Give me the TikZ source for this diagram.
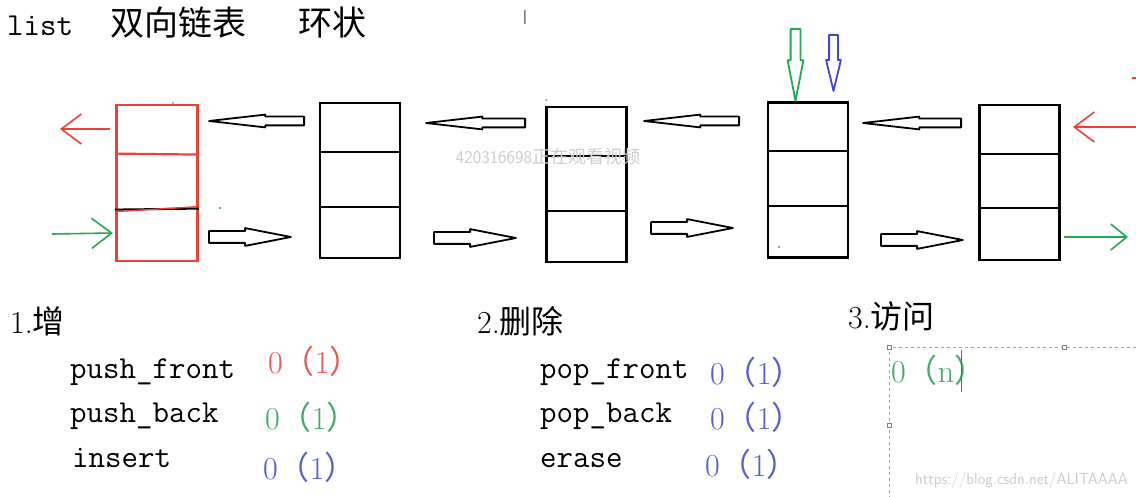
\documentclass[tikz,border=0pt]{standalone}
\usepackage{fontspec}
\newfontfamily\cjk{Noto Sans CJK SC}
\usetikzlibrary{arrows.meta,shapes.arrows}
\definecolor{pred}{RGB}{236,64,56}
\definecolor{pgreen}{RGB}{36,168,80}
\definecolor{pblue}{RGB}{64,72,210}
\definecolor{tred}{RGB}{232,88,84}
\definecolor{tgreen}{RGB}{64,172,104}
\definecolor{tblue}{RGB}{84,96,204}
\definecolor{wm}{RGB}{205,205,205}
\definecolor{frame}{RGB}{110,175,225}
\tikzset{
  cellbox/.style={draw=black, line width=2.2pt, minimum width=80pt, minimum height=155pt, inner sep=0pt},
  harrow/.style={single arrow, draw=black, line width=1.8pt, line join=round, single arrow head indent=0pt, anchor=tail, minimum width=0pt},
  leftarrow/.style={harrow, inner xsep=0pt, inner ysep=3.5pt, single arrow head extend=2pt, single arrow tip angle=13, shape border rotate=180},
  rightarrow/.style={harrow, inner xsep=0pt, inner ysep=5pt, single arrow head extend=3pt, single arrow tip angle=22},
  downarrow/.style={harrow, inner ysep=0pt, shape border rotate=270},
  barbline/.style={line width=1.6pt, -{Straight Barb[length=20pt,width=30pt,line width=1.6pt]}},
  txt/.style={anchor=base west, inner sep=0pt, font=\fontsize{32}{32}\selectfont},
  code/.style={anchor=base west, inner sep=0pt, font=\fontsize{32}{32}\ttfamily},
  cplx/.style={anchor=base west, inner sep=0pt, font=\fontsize{32}{32}\selectfont},
}
\newcommand\oone{0{\cjk （}1{\cjk ）}}
\begin{document}
\begin{tikzpicture}[x=1pt,y=-1pt]
\useasboundingbox (0,0) rectangle (1136,497);
\fill[white] (0,0) rectangle (1136,497);

% title
\node[anchor=base west, inner sep=0pt, font=\fontsize{32}{32}\ttfamily] (title1) at (7,36) {list};
\node[txt, font=\fontsize{34}{34}\selectfont] (title2) at (110,36) {\cjk 双向链表};
\node[txt, font=\fontsize{34}{34}\selectfont] (title3) at (298,36) {\cjk 环状};
\node[anchor=center, inner sep=0pt, text=gray, font=\fontsize{20}{20}\sffamily] (cursor1) at (525,18) {I};

% boxes
\node[cellbox, draw=pred, line width=2.8pt, minimum width=81pt, minimum height=156pt] (b1) at (157,183) {};
\node[cellbox] (b2) at (360,180.5) {};
\node[cellbox] (b3) at (586.5,184.5) {};
\node[cellbox] (b4) at (808,180) {};
\node[cellbox] (b5) at (1019.5,182.5) {};

\draw[pred, line width=2.2pt] ([yshift=-50pt]b1.north west) -- ([yshift=-51pt]b1.north east);
\draw[black, line width=2pt] ([yshift=-106pt]b1.north west) -- ([yshift=-105pt]b1.north east);
\draw[pred, line width=1.4pt] ([yshift=-108pt]b1.north west) -- ([yshift=-103pt]b1.north east);
\foreach \b/\ya/\yb in {b2/50/105, b3/50/105, b4/50/105, b5/50/104}{
  \draw[line width=2.2pt] ([yshift=-\ya pt]\b.north west) -- ([yshift=-\ya pt]\b.north east);
  \draw[line width=2.2pt] ([yshift=-\yb pt]\b.north west) -- ([yshift=-\yb pt]\b.north east);
}

% hollow arrows: prev pointers (left), next pointers (right)
\node[leftarrow, minimum height=95pt] (u12) at (305,121) {};
\node[leftarrow, minimum height=99pt] (u23) at (526,123) {};
\node[leftarrow, minimum height=95pt] (u34) at (740,121) {};
\node[leftarrow, minimum height=98pt] (u45) at (962,123) {};
\node[rightarrow, minimum height=82pt] (l12) at (208,237) {};
\node[rightarrow, minimum height=82pt] (l23) at (433,238) {};
\node[rightarrow, minimum height=82pt] (l34) at (650,228) {};
\node[rightarrow, minimum height=82pt] (l45) at (880,240) {};

% down arrows (iterators)
\node[downarrow, draw=pgreen, inner xsep=4pt, single arrow head extend=3pt, single arrow tip angle=22, minimum height=72pt] (dg) at (795.5,28) {};
\node[downarrow, draw=pblue, inner xsep=3.5pt, single arrow head extend=3pt, single arrow tip angle=27, minimum height=56pt] (db) at (833.5,34) {};

% coloured line arrows
\coordinate (rl0) at (110,129);
\coordinate (rl1) at (60,129);
\coordinate (gl0) at (52,234);
\coordinate (gl1) at (113,233);
\coordinate (rr0) at (1136,127);
\coordinate (rr1) at (1073,127);
\coordinate (gr0) at (1064,237);
\coordinate (gr1) at (1128,237);
\draw[barbline, pred] (rl0) -- (rl1);
\draw[barbline, pgreen] (gl0) -- (gl1);
\draw[barbline, pred] (rr0) -- (rr1);
\draw[barbline, pgreen, -{Straight Barb[length=16pt,width=26pt,line width=1.6pt]}] (gr0) -- (gr1);
\draw[pred, line width=1.5pt] (1132,78) -- (1136,78);

% stray dots
\fill[pgreen] (220,208) circle (1.2pt);
\fill[pgreen] (779,247) circle (1.2pt);
\fill[pblue!70] (173,103) circle (1pt);
\fill[pblue!70] (546,100) circle (1pt);

% watermark
\node[anchor=center, inner sep=0pt, text=wm, font=\fontsize{18}{18}\sffamily] (wm1) at (548,157) {420316698{\cjk 正在观看视频}};

% section 1
\node[txt] (s1) at (10,334) {1.{\cjk 增}};
\node[code] (pf) at (70,378) {push\_front};
\node[cplx, text=tred] (pfc) at (268,373) {\oone};
\node[code] (pb) at (70,422) {push\_back};
\node[cplx, text=tgreen] (pbc) at (265,429) {\oone};
\node[code] (ins) at (72,467) {insert};
\node[cplx, text=tblue] (insc) at (263,479) {\oone};

% section 2
\node[txt] (s2) at (477,334) {2.{\cjk 删除}};
\node[code] (popf) at (540,378) {pop\_front};
\node[cplx, text=tblue] (popfc) at (710,384) {\oone};
\node[code] (popb) at (540,422) {pop\_back};
\node[cplx, text=tblue] (popbc) at (710,429) {\oone};
\node[code] (er) at (540,467) {erase};
\node[cplx, text=tblue] (erc) at (705,476) {\oone};

% section 3
\node[txt] (s3) at (848,328) {3.{\cjk 访问}};
\draw[frame, dashed, line width=1pt] (1136,347) -- (889,347) -- (889,497);
\draw[gray, line width=0.6pt, fill=white] (887,345) rectangle (891,349);
\draw[gray, line width=0.6pt, fill=white] (1062,345) rectangle (1066,349);
\draw[gray, line width=0.6pt, fill=white] (887,423) rectangle (891,427);
\node[cplx, text=tgreen] (acc) at (891,382) {0{\cjk （}n{\cjk ）}};
\draw[gray!80!black, line width=1pt] (961,350) -- (961,392);
\node[anchor=base east, inner sep=0pt, text=wm, font=\fontsize{16}{16}\sffamily] (wm2) at (1128,484) {https://blog.csdn.net/ALITAAAA};
\end{tikzpicture}
\end{document}
